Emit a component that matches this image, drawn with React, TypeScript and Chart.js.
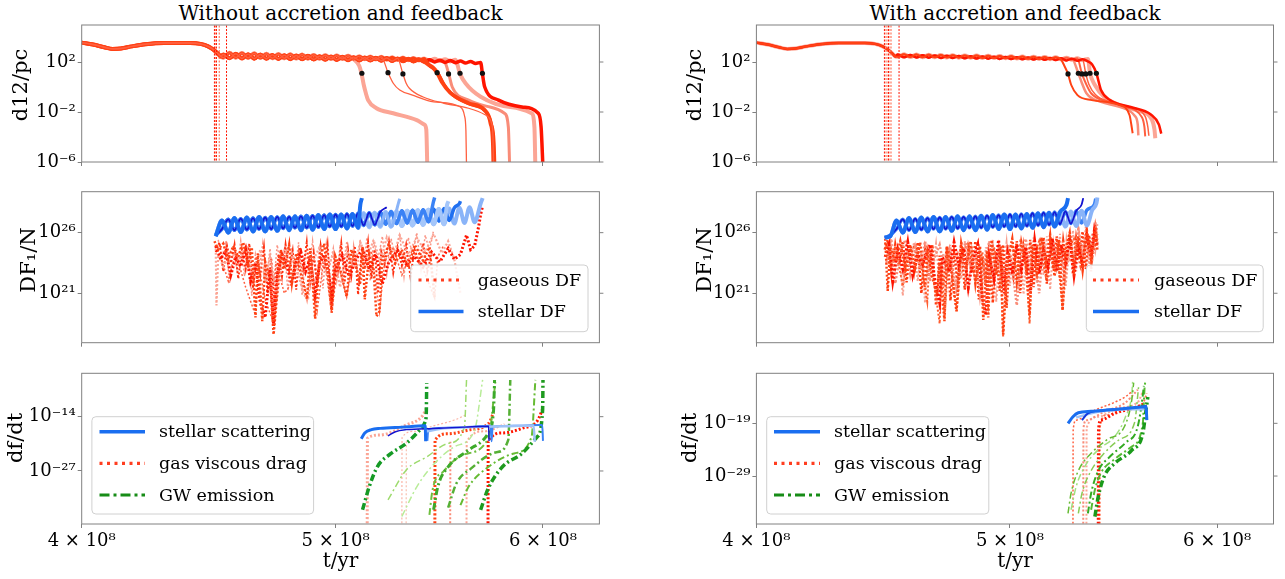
import React, { useEffect, useRef } from "react";
import { Chart, registerables } from "chart.js";

Chart.register(...registerables);
Chart.defaults.font.family = "'DejaVu Serif', 'Liberation Serif', serif";
Chart.defaults.color = "#000";

type Pair = [number, number];

// ---------------- axes ----------------
const X_MIN = 4.0; // units of 1e8 yr
const X_MAX = 6.305;
const X_TICKS = [4, 5, 6];
const Y_TOP_RANGE = [-6, 4.96];
const Y_TOP_TICKS = [2, -2, -6];
const Y_MID_RANGE = [16.92, 29.38];
const Y_MID_TICKS = [26, 21];
const Y_BL_RANGE = [-39.7, -3.61];
const Y_BL_TICKS = [-14, -27];
const Y_BR_RANGE = [-38.1, -9.51];
const Y_BR_TICKS = [-19, -29];

// ---------------- d12 (log10 pc) ----------------
const COMMON: Pair[] = [[4.0, 3.55], [4.04, 3.4], [4.08, 3.18], [4.11, 3.05], [4.14, 3.08], [4.18, 3.25], [4.23, 3.42], [4.3, 3.52], [4.4, 3.52], [4.44, 3.45], [4.47, 3.25], [4.49, 3.0], [4.51, 2.65], [4.52, 2.45]];
const PLATEAU_T = [4.53, 4.555, 4.58, 4.605, 4.63, 4.655, 4.68, 4.705, 4.73, 4.755, 4.78, 4.805, 4.83, 4.855, 4.88, 4.905, 4.93, 4.955, 4.98, 5.005, 5.03, 5.055, 5.08, 5.105, 5.13, 5.155, 5.18, 5.205, 5.23, 5.255, 5.28, 5.305, 5.33, 5.355, 5.38, 5.405, 5.43, 5.455, 5.48, 5.505, 5.53, 5.555, 5.58, 5.605, 5.63, 5.655, 5.68, 5.705];
const PLATEAU_A = [2.35, 2.75, 2.35, 2.72, 2.33, 2.7, 2.32, 2.66, 2.3, 2.64, 2.3, 2.62, 2.28, 2.6, 2.27, 2.57, 2.26, 2.54, 2.25, 2.52, 2.24, 2.5, 2.23, 2.47, 2.22, 2.44, 2.2, 2.42, 2.18, 2.39, 2.16, 2.36, 2.14, 2.32, 2.12, 2.29, 2.1, 2.26, 2.08, 2.22, 2.05, 2.19, 2.03, 2.15, 2.0, 2.12, 1.98, 2.07];
const PLATEAU_B = [2.6, 2.3, 2.66, 2.28, 2.63, 2.27, 2.6, 2.26, 2.57, 2.25, 2.54, 2.23, 2.52, 2.22, 2.5, 2.2, 2.47, 2.18, 2.45, 2.17, 2.42, 2.15, 2.39, 2.13, 2.37, 2.12, 2.34, 2.1, 2.32, 2.08, 2.29, 2.06, 2.26, 2.04, 2.22, 2.02, 2.19, 2.0, 2.15, 1.97, 2.12, 1.95, 2.08, 1.92, 2.04, 1.88, 1.97, 1.8];
const PLATEAU_RA = [2.42, 2.62, 2.4, 2.6, 2.38, 2.58, 2.38, 2.56, 2.36, 2.55, 2.35, 2.53, 2.34, 2.52, 2.33, 2.5, 2.32, 2.48, 2.3, 2.46, 2.28, 2.44, 2.26, 2.42, 2.25, 2.4, 2.23, 2.38, 2.2, 2.35, 2.18, 2.3, 2.15, 2.25, 2.1];
const PLATEAU_RB = [2.6, 2.38, 2.56, 2.36, 2.55, 2.35, 2.53, 2.33, 2.5, 2.32, 2.48, 2.3, 2.47, 2.28, 2.45, 2.27, 2.43, 2.25, 2.41, 2.24, 2.39, 2.22, 2.37, 2.2, 2.35, 2.18, 2.33, 2.16, 2.3, 2.13, 2.27, 2.1, 2.22, 2.05, 2.15];

const TL_DROP_1: Pair[] = [[5.105, 1.7], [5.115, 1.1], [5.125, 0.2], [5.135, -0.5], [5.145, -1.05], [5.183, -1.7], [5.26, -2.1], [5.37, -2.65], [5.405, -3.0], [5.415, -3.4], [5.42, -6.5]];
const TL_DROP_2: Pair[] = [[5.236, 1.15], [5.26, 0.3], [5.29, -0.24], [5.35, -0.65], [5.45, -1.19], [5.58, -1.6], [5.6, -2.3], [5.607, -3.5], [5.61, -6.5]];
const TL_DROP_3: Pair[] = [[5.305, 1.05], [5.32, 0.3], [5.335, -0.1], [5.4, -0.8], [5.5, -1.3], [5.62, -1.7], [5.7, -2.2], [5.735, -2.9], [5.742, -4], [5.745, -6.5]];
const TL_DROP_4: Pair[] = [[5.425, 1.8], [5.45, 1.5], [5.467, 1.15], [5.49, 0.4], [5.53, -0.45], [5.62, -1.3], [5.7, -1.85], [5.73, -2.9], [5.742, -4.5], [5.745, -6.5]];
const TL_DROP_5: Pair[] = [[5.43, 1.7], [5.455, 1.4], [5.475, 1.0], [5.5, 0.2], [5.54, -0.6], [5.63, -1.4], [5.705, -1.95], [5.735, -3.0], [5.748, -4.5], [5.752, -6.5]];
const TL_DROP_6: Pair[] = [[5.522, 1.1], [5.54, 0.0], [5.62, -1.05], [5.727, -1.6], [5.8, -2.1], [5.82, -3.2], [5.827, -6.5]];
const TL_DROP_7: Pair[] = [[5.578, 1.05], [5.605, 0.3], [5.68, -0.78], [5.83, -1.6], [5.94, -2.1], [5.955, -3.2], [5.96, -6.5]];
const TL_DROP_8: Pair[] = [[5.689, 1.05], [5.7, 0.02], [5.77, -1.05], [5.89, -1.6], [5.975, -2.1], [5.99, -3.2], [6.0, -6.5]];
const TL_DOTS: Pair[] = [[5.117, 1.1], [5.236, 1.15], [5.305, 1.05], [5.467, 1.15], [5.522, 1.05], [5.578, 1.1], [5.689, 1.1]];
const TL_VLINES = [4.495, 4.498, 4.503, 4.514, 4.543];

const TR_DROP_1: Pair[] = [[5.245, 1.7], [5.262, 1.05], [5.277, 0.16], [5.306, -0.65], [5.373, -1.05], [5.506, -1.45], [5.555, -2.26], [5.564, -3.06], [5.57, -3.7]];
const TR_DROP_2: Pair[] = [[5.31, 1.1], [5.327, 0.3], [5.348, -0.5], [5.417, -1.19], [5.506, -1.59], [5.58, -2.3], [5.595, -3.0], [5.598, -3.87]];
const TR_DROP_3: Pair[] = [[5.327, 1.05], [5.345, 0.3], [5.37, -0.5], [5.44, -1.15], [5.53, -1.6], [5.615, -2.4], [5.628, -3.2], [5.632, -3.95]];
const TR_DROP_4: Pair[] = [[5.345, 1.05], [5.36, 0.2], [5.39, -0.6], [5.46, -1.2], [5.55, -1.6], [5.63, -2.3], [5.645, -3.2], [5.65, -3.9]];
const TR_DROP_5: Pair[] = [[5.365, 1.1], [5.388, 0.16], [5.432, -0.78], [5.506, -1.45], [5.6, -1.9], [5.665, -2.6], [5.678, -3.4], [5.682, -4.1]];
const TR_DROP_6: Pair[] = [[5.375, 1.8], [5.395, 1.1], [5.417, -0.24], [5.46, -1.05], [5.56, -1.6], [5.66, -2.2], [5.7, -3.0], [5.712, -3.73]];
const TR_DOTS: Pair[] = [[5.262, 1.05], [5.31, 1.1], [5.327, 1.05], [5.345, 1.05], [5.365, 1.1], [5.395, 1.1]];
const TR_VLINES = [4.477, 4.482, 4.487, 4.493, 4.498, 4.503, 4.535];

// ---------------- DF1/N (log10) ----------------
const DFS_T = [4.5, 4.525, 4.55, 4.575, 4.6, 4.625, 4.65, 4.675, 4.7, 4.725, 4.75, 4.775, 4.8, 4.825, 4.85, 4.875, 4.9, 4.925, 4.95, 4.975, 5.0, 5.025, 5.05, 5.075, 5.1, 5.125, 5.15, 5.175, 5.2, 5.225, 5.25, 5.275, 5.3, 5.325, 5.35, 5.375, 5.4, 5.425, 5.45, 5.475, 5.5, 5.525, 5.55, 5.575, 5.6, 5.625, 5.65, 5.675, 5.7];
const DFS_A = [25.7, 27.0, 26.0, 27.2, 26.05, 27.25, 26.1, 27.3, 26.1, 27.3, 26.15, 27.35, 26.2, 27.35, 26.2, 27.4, 26.25, 27.45, 26.3, 27.5, 26.3, 27.5, 26.35, 27.55, 26.4, 27.6, 26.45, 27.65, 26.5, 27.7, 26.5, 27.75, 26.55, 27.8, 26.6, 27.85, 26.65, 27.9, 26.7, 27.95, 26.7, 28.0, 26.75, 28.05, 26.8, 28.1, 26.85, 28.15, 26.9];
const DFS_B = [25.8, 26.3, 27.1, 26.2, 27.15, 26.25, 27.2, 26.3, 27.25, 26.3, 27.3, 26.35, 27.3, 26.4, 27.35, 26.4, 27.4, 26.45, 27.45, 26.5, 27.5, 26.5, 27.55, 26.55, 27.6, 26.6, 27.65, 26.65, 27.7, 26.7, 27.75, 26.75, 27.8, 26.8, 27.85, 26.85, 27.9, 26.9, 27.95, 26.95, 28.0, 27.0, 28.05, 27.05, 28.1, 27.1, 28.15, 27.15, 28.2];

const GL_1: Pair[] = [[4.495, 25.3], [4.51, 24.6], [4.53, 25.1], [4.55, 23.8], [4.57, 24.9], [4.59, 24.0], [4.61, 25.2], [4.63, 23.4], [4.645, 24.8], [4.66, 19.0], [4.67, 24.3], [4.688, 18.7], [4.7, 23.6], [4.72, 22.2], [4.735, 17.6], [4.75, 21.0], [4.765, 24.6], [4.78, 23.0], [4.8, 25.0], [4.812, 21.9], [4.83, 24.3], [4.85, 22.6], [4.876, 20.5], [4.89, 24.7], [4.911, 18.9], [4.93, 23.6], [4.95, 25.1], [4.965, 22.9], [4.983, 19.4], [5.0, 24.0], [5.02, 23.0], [5.049, 20.7], [5.07, 24.6], [5.09, 23.4], [5.108, 21.7], [5.12, 24.8], [5.13, 20.5], [5.15, 24.2], [5.17, 22.9], [5.183, 19.1], [5.197, 19.5], [5.21, 23.8], [5.24, 25.0], [5.27, 23.5], [5.3, 24.6], [5.33, 23.1], [5.36, 25.0], [5.4, 23.7], [5.43, 24.8], [5.455, 20.6]];
const GL_2: Pair[] = [[4.5, 24.9], [4.52, 23.8], [4.54, 24.5], [4.56, 22.5], [4.58, 24.0], [4.6, 23.2], [4.62, 24.6], [4.64, 22.0], [4.66, 23.5], [4.68, 20.2], [4.7, 19.0], [4.72, 23.0], [4.735, 18.3], [4.75, 22.5], [4.77, 24.2], [4.79, 23.3], [4.81, 21.8], [4.83, 23.6], [4.85, 24.4], [4.87, 22.8], [4.89, 23.9], [4.91, 20.8], [4.93, 23.4], [4.95, 24.2], [4.97, 22.6], [4.983, 20.5], [5.0, 23.0], [5.03, 24.1], [5.06, 22.4], [5.09, 23.8], [5.12, 24.6], [5.15, 23.0], [5.18, 24.2], [5.21, 21.8], [5.24, 23.6], [5.28, 24.5], [5.32, 23.4], [5.36, 24.0], [5.4, 23.2], [5.44, 24.4], [5.48, 23.6], [5.52, 24.7], [5.55, 23.8], [5.58, 24.2], [5.61, 25.8], [5.63, 24.6], [5.65, 24.9], [5.67, 26.5], [5.68, 27.5], [5.69, 28.2]];
const GL_3: Pair[] = [[4.5, 25.0], [4.503, 20.0], [4.51, 24.2], [4.53, 23.2], [4.56, 24.4], [4.59, 23.6], [4.62, 25.0], [4.65, 22.8], [4.68, 24.6], [4.7, 21.9], [4.72, 24.0], [4.75, 20.8], [4.77, 23.8], [4.8, 24.9], [4.83, 23.2], [4.86, 21.0], [4.88, 20.4], [4.9, 23.6], [4.93, 24.8], [4.96, 22.7], [4.99, 24.3], [5.02, 21.5], [5.05, 24.6], [5.08, 23.0], [5.11, 25.2], [5.14, 23.9], [5.17, 25.4], [5.2, 23.6], [5.23, 25.6], [5.26, 24.0], [5.29, 25.8], [5.33, 24.2], [5.37, 25.6], [5.41, 24.4], [5.45, 25.9], [5.49, 24.3], [5.52, 25.3], [5.55, 23.8], [5.58, 21.0]];
const GL_4: Pair[] = [[4.52, 24.0], [4.55, 22.0], [4.58, 24.3], [4.62, 21.5], [4.66, 19.2], [4.675, 23.0], [4.7, 20.5], [4.73, 18.8], [4.745, 23.5], [4.78, 21.0], [4.812, 21.85], [4.84, 24.5], [4.876, 20.5], [4.895, 23.8], [4.92, 19.6], [4.95, 24.0], [4.983, 19.35], [5.01, 23.5], [5.049, 20.7], [5.08, 24.2], [5.108, 21.7], [5.13, 23.0], [5.16, 24.5], [5.197, 19.5], [5.22, 23.6], [5.26, 24.8], [5.3, 22.5], [5.35, 24.6], [5.4, 23.0], [5.455, 20.6], [5.47, 24.0], [5.5, 25.0]];
const GL_5: Pair[] = [[4.5, 24.4], [4.515, 25.2], [4.53, 22.8], [4.545, 24.9], [4.56, 23.5], [4.575, 25.0], [4.59, 22.2], [4.605, 24.6], [4.62, 23.0], [4.635, 25.1], [4.65, 21.4], [4.665, 24.0], [4.68, 22.5], [4.695, 24.8], [4.71, 21.0], [4.725, 23.9], [4.74, 19.8], [4.755, 24.2], [4.77, 22.4], [4.785, 25.0], [4.8, 22.9], [4.815, 24.5], [4.83, 21.3], [4.845, 24.8], [4.86, 23.1], [4.875, 25.2], [4.89, 22.0], [4.905, 24.3], [4.92, 21.5], [4.935, 24.9], [4.95, 23.0], [4.965, 25.0], [4.98, 20.6], [4.995, 24.1], [5.01, 22.8], [5.025, 25.1], [5.04, 21.9], [5.055, 24.6], [5.07, 22.5], [5.085, 24.9], [5.1, 20.9], [5.115, 24.2], [5.13, 23.0], [5.145, 25.2], [5.16, 22.2], [5.175, 24.6], [5.19, 21.0], [5.205, 24.4], [5.22, 23.4], [5.24, 25.3], [5.26, 22.7], [5.28, 24.8], [5.3, 23.3], [5.32, 25.0], [5.34, 22.4], [5.36, 24.6], [5.38, 23.6], [5.4, 25.1], [5.42, 22.8], [5.44, 24.2]];
const GL_6: Pair[] = [[4.51, 25.4], [4.525, 23.9], [4.54, 25.3], [4.555, 21.8], [4.57, 24.6], [4.585, 23.0], [4.6, 25.3], [4.615, 22.4], [4.63, 24.9], [4.645, 20.8], [4.66, 24.2], [4.675, 22.9], [4.69, 25.1], [4.705, 22.0], [4.72, 24.7], [4.735, 21.6], [4.75, 25.0], [4.765, 23.2], [4.78, 24.6], [4.795, 21.2], [4.81, 24.8], [4.825, 22.6], [4.84, 25.2], [4.855, 20.8], [4.87, 24.4], [4.885, 23.0], [4.9, 25.3], [4.915, 22.3], [4.93, 24.8], [4.945, 21.4], [4.96, 25.1], [4.975, 23.3], [4.99, 24.7], [5.005, 22.1], [5.02, 25.0], [5.035, 23.4], [5.05, 25.3], [5.065, 21.9], [5.08, 24.9], [5.095, 22.8], [5.11, 25.4], [5.125, 23.5], [5.14, 25.6], [5.155, 22.0], [5.17, 25.2], [5.19, 23.8], [5.21, 25.7], [5.23, 22.6], [5.25, 25.5], [5.27, 24.0], [5.29, 25.9], [5.31, 22.4], [5.33, 25.6], [5.35, 24.2], [5.37, 26.0], [5.39, 23.0], [5.41, 25.8], [5.43, 24.5], [5.45, 26.2]];

const GR_1: Pair[] = [[4.48, 25.5], [4.49, 21.2], [4.5, 24.8], [4.52, 23.6], [4.54, 25.3], [4.56, 22.8], [4.58, 25.0], [4.6, 23.1], [4.62, 25.2], [4.64, 21.5], [4.65, 24.4], [4.67, 22.3], [4.69, 20.9], [4.7, 23.5], [4.72, 18.7], [4.73, 24.8], [4.75, 22.6], [4.77, 19.5], [4.79, 25.1], [4.81, 23.0], [4.83, 25.3], [4.85, 21.8], [4.87, 24.9], [4.884, 18.8], [4.9, 24.5], [4.905, 19.0], [4.92, 25.4], [4.94, 22.5], [4.96, 24.9], [4.97, 17.6], [4.99, 23.8], [5.01, 25.5], [5.03, 21.9], [5.05, 25.2], [5.07, 23.3], [5.087, 19.2], [5.1, 25.0], [5.12, 22.7], [5.14, 25.6], [5.16, 23.5], [5.18, 25.8], [5.2, 22.4], [5.22, 25.4], [5.237, 19.6], [5.25, 24.6], [5.27, 26.0], [5.29, 23.0], [5.31, 25.7], [5.33, 22.9], [5.35, 26.2], [5.37, 23.8], [5.39, 26.5], [5.4, 24.5]];
const GR_2: Pair[] = [[4.48, 24.0], [4.495, 25.0], [4.51, 22.0], [4.53, 24.6], [4.55, 23.0], [4.57, 25.2], [4.59, 22.5], [4.61, 24.2], [4.63, 23.4], [4.66, 25.0], [4.68, 22.0], [4.7, 20.2], [4.71, 24.0], [4.74, 22.8], [4.76, 25.2], [4.78, 23.3], [4.8, 24.7], [4.82, 21.5], [4.84, 23.8], [4.86, 25.0], [4.88, 20.6], [4.895, 19.2], [4.91, 24.0], [4.93, 22.2], [4.95, 25.4], [4.975, 21.0], [4.99, 24.3], [5.01, 22.6], [5.03, 25.0], [5.05, 23.0], [5.07, 24.8], [5.09, 21.0], [5.11, 25.3], [5.13, 22.6], [5.15, 24.5], [5.17, 23.2], [5.19, 25.5], [5.21, 22.8], [5.23, 25.0], [5.25, 23.5], [5.27, 25.6], [5.29, 22.5], [5.31, 24.9], [5.33, 23.3], [5.35, 25.8], [5.37, 24.0], [5.385, 26.1], [5.4, 24.8]];
const GR_3: Pair[] = [[4.485, 23.5], [4.5, 25.2], [4.52, 21.8], [4.54, 24.4], [4.56, 25.4], [4.58, 22.6], [4.6, 24.8], [4.62, 23.0], [4.64, 25.3], [4.66, 22.0], [4.68, 24.0], [4.7, 25.0], [4.72, 22.9], [4.74, 24.6], [4.77, 21.4], [4.79, 24.0], [4.81, 25.2], [4.83, 23.0], [4.85, 24.6], [4.87, 20.8], [4.89, 23.6], [4.91, 25.3], [4.93, 22.2], [4.95, 24.7], [4.97, 21.5], [4.99, 25.0], [5.01, 23.1], [5.03, 20.0], [5.05, 24.0], [5.07, 25.5], [5.09, 23.0], [5.11, 24.6], [5.13, 21.0], [5.15, 25.1], [5.17, 22.9], [5.19, 25.6], [5.21, 23.2], [5.23, 25.0], [5.25, 21.6], [5.27, 25.5], [5.29, 23.7], [5.31, 26.3], [5.33, 24.0], [5.35, 26.0], [5.37, 22.8], [5.39, 26.9], [5.4, 25.0]];
const GR_4: Pair[] = [[4.48, 25.2], [4.5, 23.0], [4.52, 24.9], [4.55, 21.6], [4.57, 24.2], [4.6, 25.0], [4.63, 22.6], [4.649, 20.3], [4.66, 24.5], [4.7, 18.5], [4.71, 23.9], [4.72, 19.0], [4.74, 24.7], [4.771, 19.5], [4.79, 23.8], [4.82, 25.2], [4.85, 22.0], [4.88, 24.4], [4.905, 20.0], [4.93, 24.8], [4.96, 22.3], [4.97, 17.4], [4.985, 23.5], [5.01, 25.0], [5.04, 22.7], [5.07, 24.6], [5.087, 18.5], [5.1, 23.7], [5.13, 25.3], [5.16, 22.4], [5.19, 24.8], [5.22, 23.0], [5.237, 19.6], [5.26, 24.5], [5.29, 25.5], [5.32, 23.2], [5.35, 25.7], [5.38, 24.2], [5.4, 25.9]];
const GR_5: Pair[] = [[4.478, 24.6], [4.49, 25.4], [4.505, 22.6], [4.52, 25.0], [4.535, 23.3], [4.55, 25.3], [4.565, 21.9], [4.58, 24.7], [4.595, 22.8], [4.61, 25.2], [4.625, 21.0], [4.64, 24.5], [4.655, 22.4], [4.67, 25.0], [4.685, 20.0], [4.7, 24.1], [4.715, 21.6], [4.73, 24.9], [4.745, 20.4], [4.76, 24.3], [4.775, 22.0], [4.79, 25.2], [4.805, 21.3], [4.82, 24.6], [4.835, 22.7], [4.85, 25.3], [4.865, 20.5], [4.88, 24.0], [4.895, 21.8], [4.91, 25.1], [4.925, 20.2], [4.94, 24.4], [4.955, 21.2], [4.97, 25.0], [4.985, 19.8], [5.0, 24.2], [5.015, 22.4], [5.03, 25.3], [5.045, 21.0], [5.06, 24.7], [5.075, 22.6], [5.09, 25.4], [5.105, 21.5], [5.12, 24.9], [5.135, 22.9], [5.15, 25.6], [5.165, 21.8], [5.18, 25.1], [5.195, 23.0], [5.21, 25.7], [5.225, 22.2], [5.24, 25.3], [5.255, 23.4], [5.27, 25.9], [5.285, 22.6], [5.3, 25.5], [5.315, 23.8], [5.33, 26.1], [5.345, 23.0], [5.36, 25.8], [5.375, 24.0], [5.39, 26.4], [5.4, 25.2]];
const GR_6: Pair[] = [[4.49, 24.0], [4.505, 25.5], [4.52, 23.0], [4.535, 24.8], [4.55, 20.8], [4.565, 24.6], [4.58, 23.4], [4.595, 25.2], [4.61, 22.0], [4.625, 24.4], [4.64, 20.2], [4.655, 24.9], [4.67, 23.0], [4.685, 25.1], [4.7, 21.8], [4.715, 24.3], [4.73, 22.6], [4.745, 25.0], [4.76, 20.6], [4.775, 24.5], [4.79, 22.2], [4.805, 25.3], [4.82, 21.0], [4.835, 24.6], [4.85, 22.8], [4.865, 25.1], [4.88, 21.4], [4.895, 24.8], [4.91, 22.0], [4.925, 25.4], [4.94, 20.3], [4.955, 24.2], [4.97, 22.9], [4.985, 25.2], [5.0, 21.6], [5.015, 24.7], [5.03, 22.3], [5.045, 25.5], [5.06, 20.9], [5.075, 24.5], [5.09, 23.0], [5.105, 25.6], [5.12, 21.8], [5.135, 24.9], [5.15, 22.5], [5.165, 25.7], [5.18, 21.3], [5.195, 25.1], [5.21, 23.2], [5.225, 25.9], [5.24, 22.0], [5.255, 25.4], [5.27, 23.6], [5.285, 26.2], [5.3, 22.8], [5.315, 25.8], [5.33, 24.0], [5.345, 26.5], [5.36, 23.4], [5.375, 26.0], [5.39, 24.6], [5.4, 26.8]];

// ---------------- df/dt (log10) ----------------
const BL_B1: Pair[] = [[5.114, -19.3], [5.13, -17.9], [5.16, -17.1], [5.2, -16.8], [5.3, -16.5], [5.41, -16.2], [5.412, -19.9]];
const BL_B2: Pair[] = [[5.235, -18.6], [5.27, -17.6], [5.32, -17.1], [5.45, -16.8], [5.6, -16.5], [5.72, -16.3], [5.722, -19.8]];
const BL_B3: Pair[] = [[5.418, -17.5], [5.5, -16.8], [5.65, -16.5], [5.8, -16.3], [5.95, -16.1], [5.957, -20.0]];
const BL_B4: Pair[] = [[5.42, -19.8], [5.425, -17.0], [5.55, -16.6], [5.73, -16.2], [5.735, -19.9], [5.74, -16.4], [5.85, -16.2], [5.98, -16.0], [5.996, -16.0], [6.0, -19.8]];
const BL_R1: Pair[] = [[5.141, -39.5], [5.1415, -30], [5.142, -19.2], [5.196, -18.4], [5.32, -16.0], [5.4, -13.6], [5.415, -12.0]];
const BL_R2: Pair[] = [[5.3, -39.5], [5.301, -19.0], [5.36, -17.5], [5.45, -16.2], [5.55, -14.8], [5.61, -13.5]];
const BL_R3: Pair[] = [[5.456, -39.5], [5.457, -19.6], [5.52, -18.1], [5.62, -17.2], [5.72, -15.6], [5.745, -13.0]];
const BL_R4: Pair[] = [[5.717, -39.5], [5.718, -20.0], [5.79, -17.9], [5.89, -16.8], [5.97, -15.0], [6.0, -12.0]];
const BL_R5: Pair[] = [[5.53, -39.5], [5.531, -20.0]];
const BL_R6: Pair[] = [[5.61, -39.5], [5.611, -20.0], [5.7, -17.5], [5.8, -15.8]];
const BL_R7: Pair[] = [[5.32, -39.5], [5.321, -19.5]];
const BL_G1: Pair[] = [[5.12, -36.3], [5.15, -30.8], [5.187, -26.0], [5.25, -22.8], [5.32, -20.4], [5.377, -17.6], [5.41, -15.2], [5.415, -13.2], [5.417, -6.0]];
const BL_G2: Pair[] = [[5.236, -33.9], [5.32, -26.8], [5.418, -23.6], [5.52, -20.4], [5.6, -16.4], [5.61, -5.2]];
const BL_G3: Pair[] = [[5.3, -37.9], [5.37, -30.8], [5.44, -26.0], [5.55, -21.2], [5.65, -17.2], [5.69, -5.2]];
const BL_G4: Pair[] = [[5.45, -36.3], [5.47, -30.8], [5.52, -26.0], [5.62, -22.0], [5.717, -18.0], [5.745, -12.4], [5.75, -5.2]];
const BL_G5: Pair[] = [[5.43, -37.5], [5.445, -31.5], [5.5, -27.0], [5.6, -23.0], [5.72, -19.0], [5.755, -5.2]];
const BL_G6: Pair[] = [[5.52, -35.8], [5.56, -30.0], [5.63, -26.5], [5.76, -22.5], [5.82, -19.5], [5.83, -5.2]];
const BL_G7: Pair[] = [[5.68, -36.3], [5.717, -31.3], [5.79, -26.0], [5.89, -22.8], [5.97, -18.8], [5.998, -12.4], [6.0, -5.2]];
const BL_G8: Pair[] = [[5.58, -35.2], [5.62, -30.8], [5.72, -26.0], [5.85, -22.8], [5.94, -18.8], [5.96, -5.2]];

const BR_B1: Pair[] = [[5.262, -19.0], [5.285, -17.75], [5.31, -17.0], [5.37, -16.7], [5.483, -16.4], [5.636, -15.85], [5.64, -18.4]];
const BR_B2: Pair[] = [[5.327, -18.4], [5.355, -17.1], [5.432, -16.5], [5.566, -16.1], [5.64, -15.7]];
const BR_B3: Pair[] = [[5.3, -17.9], [5.404, -16.8], [5.62, -16.3], [5.625, -16.5]];
const BR_R1: Pair[] = [[5.285, -38.0], [5.286, -20.3], [5.3, -18.4], [5.37, -16.8], [5.483, -15.0], [5.535, -13.95], [5.566, -13.0]];
const BR_R2: Pair[] = [[5.333, -38.0], [5.334, -20.0], [5.348, -18.4], [5.432, -16.8], [5.53, -15.2], [5.58, -13.3], [5.595, -12.6]];
const BR_R3: Pair[] = [[5.348, -38.0], [5.349, -19.8], [5.404, -17.75], [5.49, -16.2], [5.595, -15.0], [5.62, -13.0]];
const BR_R4: Pair[] = [[5.404, -38.0], [5.405, -20.3], [5.417, -18.4], [5.483, -17.1], [5.566, -16.2], [5.636, -15.2]];
const BR_R5: Pair[] = [[5.411, -38.0], [5.412, -19.6], [5.446, -17.4], [5.53, -16.2], [5.62, -15.2], [5.64, -13.3]];
const BR_G1: Pair[] = [[5.262, -36.1], [5.276, -32.3], [5.31, -28.0], [5.37, -24.7], [5.446, -22.1], [5.53, -19.6], [5.566, -14.5], [5.575, -11.3]];
const BR_G2: Pair[] = [[5.31, -36.1], [5.327, -32.3], [5.37, -28.0], [5.432, -24.7], [5.505, -22.1], [5.58, -18.8], [5.595, -13.7], [5.6, -11.7]];
const BR_G3: Pair[] = [[5.355, -36.1], [5.37, -32.3], [5.404, -28.0], [5.46, -25.3], [5.535, -22.7], [5.595, -19.6], [5.62, -13.7], [5.625, -11.9]];
const BR_G4: Pair[] = [[5.388, -36.7], [5.404, -32.9], [5.432, -29.1], [5.483, -26.6], [5.566, -24.1], [5.62, -20.9], [5.636, -16.5], [5.645, -14.0]];
const BR_G5: Pair[] = [[5.37, -35.4], [5.388, -31.6], [5.417, -28.4], [5.483, -25.8], [5.566, -23.4], [5.62, -19.0], [5.628, -12.7], [5.632, -11.1]];
const BR_G6: Pair[] = [[5.276, -35.4], [5.3, -31.0], [5.34, -27.2], [5.404, -24.0], [5.483, -21.5], [5.535, -17.75], [5.566, -13.3], [5.57, -11.1]];

// ---------------- helpers ----------------
const toPt = ([t, e]: Pair) => ({ x: t * 1e8, y: Math.pow(10, e) });
const pts = (a: Pair[]) => a.map(toPt);
const upTo = (tArr: number[], vals: number[], tEnd: number): Pair[] => {
  const out: Pair[] = [];
  for (let i = 0; i < vals.length && i < tArr.length; i++) if (tArr[i] <= tEnd) out.push([tArr[i], vals[i]]);
  return out;
};
const d12 = (vals: number[], tEnd: number, drop: Pair[]) => pts([...COMMON, ...upTo(PLATEAU_T, vals, tEnd), ...drop]);
const dfs = (vals: number[], tEnd: number, tail: Pair[], head: Pair[] = []) => pts([...head, ...upTo(DFS_T, vals, tEnd), ...tail]);

const DOTTED = [2, 2];
const DASHDOT = [7, 3, 2, 3];
const line = (data: any[], color: string, width: number, extra: any = {}) => ({
  data, borderColor: color, backgroundColor: color, borderWidth: width, showLine: true,
  pointRadius: 0, tension: 0, fill: false, ...extra,
});
const smooth = { cubicInterpolationMode: "monotone" };
const dots = (a: Pair[]) => ({ data: pts(a), showLine: false, pointRadius: 2.6, pointBackgroundColor: "#111", pointBorderColor: "#111", pointBorderWidth: 0 });
const vline = (t: number, color: string) => line(pts([[t, -7], [t, 6]]), color, 1, { borderDash: [2, 1.5] });

const SUP: Record<string, string> = { "0": "⁰", "1": "¹", "2": "²", "3": "³", "4": "⁴", "5": "⁵", "6": "⁶", "7": "⁷", "8": "⁸", "9": "⁹", "-": "⁻" };
const sup = (n: number) => String(n).split("").map((c) => SUP[c] || c).join("");

// ---------------- plugins ----------------
const framePlugin = {
  id: "frame",
  afterDraw(chart: any, _args: any, o: any) {
    const { ctx, chartArea: a } = chart;
    ctx.save();
    ctx.strokeStyle = "#808080";
    ctx.lineWidth = 1;
    ctx.strokeRect(a.left, a.top, a.right - a.left, a.bottom - a.top);
    const ys = chart.scales.y;
    ys.ticks.forEach((tk: any) => {
      const y = ys.getPixelForValue(tk.value);
      ctx.beginPath();
      ctx.moveTo(a.right, y);
      ctx.lineTo(a.right + 4, y);
      ctx.stroke();
    });
    if (o && o.ylabel) {
      ctx.translate(o.ylabel.cx - o.ox, o.ylabel.cy - o.oy);
      ctx.rotate(-Math.PI / 2);
      ctx.fillStyle = "#000";
      ctx.font = "21px 'DejaVu Serif', serif";
      ctx.textAlign = "center";
      ctx.textBaseline = "middle";
      ctx.fillText(o.ylabel.text, 0, 0);
    }
    ctx.restore();
  },
};

const legendPlugin = {
  id: "boxLegend",
  afterDraw(chart: any, _args: any, o: any) {
    if (!o || !o.items) return;
    const ctx = chart.ctx;
    const ox = o.ox, oy = o.oy;
    const [x0, y0, x1, y1] = [o.box[0] - ox, o.box[1] - oy, o.box[2] - ox, o.box[3] - oy];
    const r = 4;
    ctx.save();
    ctx.beginPath();
    ctx.moveTo(x0 + r, y0);
    ctx.lineTo(x1 - r, y0);
    ctx.quadraticCurveTo(x1, y0, x1, y0 + r);
    ctx.lineTo(x1, y1 - r);
    ctx.quadraticCurveTo(x1, y1, x1 - r, y1);
    ctx.lineTo(x0 + r, y1);
    ctx.quadraticCurveTo(x0, y1, x0, y1 - r);
    ctx.lineTo(x0, y0 + r);
    ctx.quadraticCurveTo(x0, y0, x0 + r, y0);
    ctx.closePath();
    ctx.fillStyle = "rgba(255,255,255,0.85)";
    ctx.fill();
    ctx.strokeStyle = "#d0d0d0";
    ctx.lineWidth = 1;
    ctx.stroke();
    o.items.forEach((it: any) => {
      const y = it.y - oy;
      ctx.beginPath();
      ctx.setLineDash(it.dash || []);
      ctx.strokeStyle = it.color;
      ctx.lineWidth = it.width;
      ctx.moveTo(o.sx0 - ox, y);
      ctx.lineTo(o.sx1 - ox, y);
      ctx.stroke();
      ctx.setLineDash([]);
      ctx.fillStyle = "#000";
      ctx.font = "17.5px 'DejaVu Serif', serif";
      ctx.textBaseline = "middle";
      ctx.textAlign = "left";
      ctx.fillText(it.label, o.tx - ox, y + 1);
    });
    ctx.restore();
  },
};

// ---------------- panel spec ----------------
interface Spec {
  left: number; top: number; w: number; h: number;
  yW: number; padTop: number; padRight: number; xH: number;
  yRange: number[]; yTicks: number[]; ylabel: { text: string; cx: number; cy: number };
  showX: boolean; datasets: any[]; legend?: any;
}

function buildConfig(s: Spec): any {
  return {
    type: "scatter",
    data: { datasets: s.datasets },
    options: {
      animation: false,
      responsive: false,
      maintainAspectRatio: false,
      devicePixelRatio: 1,
      events: [],
      layout: { padding: { left: 0, top: s.padTop, right: s.padRight, bottom: 0 } },
      elements: { point: { radius: 0, hoverRadius: 0 }, line: { borderCapStyle: "butt" } },
      plugins: {
        legend: { display: false },
        tooltip: { enabled: false },
        frame: { ylabel: s.ylabel, ox: s.left, oy: s.top },
        boxLegend: s.legend ? { ...s.legend, ox: s.left, oy: s.top } : {},
      },
      scales: {
        x: {
          type: "logarithmic",
          min: X_MIN * 1e8,
          max: X_MAX * 1e8,
          afterBuildTicks: (sc: any) => { sc.ticks = X_TICKS.map((v) => ({ value: v * 1e8 })); },
          afterFit: (sc: any) => { sc.height = s.xH; sc.paddingLeft = 0; sc.paddingRight = 0; },
          ticks: {
            display: s.showX, autoSkip: false, maxRotation: 0, minRotation: 0, padding: 3,
            font: { size: 18 }, color: "#000",
            callback: (v: number) => `${Math.round(v / 1e8)} × 10⁸`,
          },
          grid: { display: true, drawOnChartArea: false, drawTicks: true, tickLength: 4, color: "#808080" },
          border: { display: false },
          title: { display: s.showX, text: "t/yr", font: { size: 20 }, color: "#000", padding: { top: 0, bottom: 5.3 } },
        },
        y: {
          type: "logarithmic",
          min: Math.pow(10, s.yRange[0]),
          max: Math.pow(10, s.yRange[1]),
          afterBuildTicks: (sc: any) => { sc.ticks = s.yTicks.map((e) => ({ value: Math.pow(10, e) })); },
          afterFit: (sc: any) => { sc.width = s.yW; sc.paddingTop = 0; sc.paddingBottom = 0; },
          ticks: {
            autoSkip: false, padding: 2, font: { size: 18 }, color: "#000",
            callback: (v: number) => "10" + sup(Math.round(Math.log10(v))),
          },
          grid: { display: true, drawOnChartArea: false, drawTicks: true, tickLength: 4, color: "#808080" },
          border: { display: false },
          title: { display: false },
        },
      },
    },
    plugins: [framePlugin, legendPlugin],
  };
}

function Panel({ spec }: { spec: Spec }) {
  const ref = useRef<HTMLCanvasElement>(null);
  useEffect(() => {
    const chart = new Chart(ref.current as HTMLCanvasElement, buildConfig(spec));
    return () => chart.destroy();
  }, []);
  return (
    <canvas
      ref={ref}
      width={spec.w}
      height={spec.h}
      style={{ position: "absolute", left: spec.left, top: spec.top, width: spec.w, height: spec.h }}
    />
  );
}

// ---------------- colours ----------------
const C_LSALMON = "#fba595";
const C_SALMON = "#f98c78";
const C_ORED = "#ff4214";
const C_RED = "#ff1400";
const C_ORANGE = "#ff6040";
const C_BLUE = "#1a6ef0";
const C_DBLUE = "#1414d0";
const C_LBLUE = "#8ab4f8";
const C_MBLUE = "#3a82f5";

// ---------------- datasets ----------------
const topLeftSets = [
  dots(TL_DOTS),
  ...TL_VLINES.map((t, i) => vline(t, i % 2 ? C_ORANGE : C_RED)),
  line(d12(PLATEAU_A, 5.22, TL_DROP_2), C_ORANGE, 1.3, smooth),
  line(d12(PLATEAU_B, 5.29, TL_DROP_3), C_ORANGE, 1.3, smooth),
  line(d12(PLATEAU_B, 5.41, TL_DROP_4), C_ORED, 4, smooth),
  line(d12(PLATEAU_A, 5.42, TL_DROP_5), C_ORED, 3, smooth),
  line(d12(PLATEAU_B, 5.68, TL_DROP_8), C_RED, 3.5, smooth),
  line(d12(PLATEAU_B, 5.505, TL_DROP_6), C_SALMON, 3, smooth),
  line(d12(PLATEAU_A, 5.56, TL_DROP_7), C_LSALMON, 4, smooth),
  line(d12(PLATEAU_A, 5.09, TL_DROP_1), C_LSALMON, 4, smooth),
];

const topRightSets = [
  dots(TR_DOTS),
  ...TR_VLINES.map((t, i) => vline(t, i % 3 === 0 ? C_RED : i % 3 === 1 ? C_LSALMON : C_ORANGE)),
  line(d12(PLATEAU_RA, 5.23, TR_DROP_1), C_ORED, 2, smooth),
  line(d12(PLATEAU_RB, 5.355, TR_DROP_6), C_RED, 2.5, smooth),
  line(d12(PLATEAU_RB, 5.28, TR_DROP_2), C_SALMON, 2.5, smooth),
  line(d12(PLATEAU_RA, 5.305, TR_DROP_3), C_ORANGE, 2, smooth),
  line(d12(PLATEAU_RB, 5.33, TR_DROP_4), C_ORANGE, 1.5, smooth),
  line(d12(PLATEAU_RA, 5.355, TR_DROP_5), C_LSALMON, 4, smooth),
];

const midLeftSets = [
  line(dfs(DFS_A, 5.1, [[5.11, 28.3], [5.117, 28.85]]), C_BLUE, 4, smooth),
  line(dfs(DFS_B, 5.21, [[5.23, 28.1]]), C_DBLUE, 1.8, smooth),
  line(dfs(DFS_A, 5.27, [[5.285, 28.5], [5.29, 28.8]]), C_LBLUE, 3, smooth),
  line(dfs(DFS_B, 5.43, [[5.45, 28.6], [5.455, 28.9]]), C_MBLUE, 3.5, smooth),
  line(dfs(DFS_A, 5.5, [[5.515, 28.3], [5.522, 28.6]]), "#a4c6fa", 4, smooth),
  line(dfs(DFS_B, 5.565, [[5.575, 28.4], [5.58, 28.6]]), "#2070f0", 3.5, smooth),
  line(dfs(DFS_A, 5.67, [[5.68, 28.4], [5.69, 28.85]]), C_LBLUE, 4, smooth),
  line(pts(GL_1), C_ORED, 2.5, { borderDash: DOTTED }),
  line(pts(GL_2), C_RED, 3, { borderDash: DOTTED }),
  line(pts(GL_3), C_LSALMON, 2.2, { borderDash: DOTTED }),
  line(pts(GL_4), C_ORANGE, 1.5, { borderDash: DOTTED }),
  line(pts(GL_5), "#ff3010", 2, { borderDash: DOTTED }),
  line(pts(GL_6), "#fa9585", 1.5, { borderDash: DOTTED }),
];

const RHEAD: Pair[] = [[4.478, 25.6]];
const midRightSets = [
  line(dfs(DFS_A, 5.24, [[5.255, 28.3], [5.262, 28.85]], RHEAD), C_BLUE, 4, smooth),
  line(dfs(DFS_B, 5.31, [[5.325, 28.3], [5.333, 28.85]], RHEAD), C_DBLUE, 1.8, smooth),
  line(dfs(DFS_A, 5.38, [[5.395, 28.4], [5.4, 28.9]], RHEAD), C_LBLUE, 4, smooth),
  line(dfs(DFS_B, 5.37, [[5.385, 28.3], [5.392, 28.8]], RHEAD), C_MBLUE, 3.5, smooth),
  line(pts(GR_1), C_ORED, 2.5, { borderDash: DOTTED }),
  line(pts(GR_2), C_RED, 3, { borderDash: DOTTED }),
  line(pts(GR_3), C_SALMON, 2.5, { borderDash: DOTTED }),
  line(pts(GR_4), "#ff5c2e", 2, { borderDash: DOTTED }),
  line(pts(GR_5), "#ff3a10", 2.5, { borderDash: DOTTED }),
  line(pts(GR_6), "#f9a090", 2, { borderDash: DOTTED }),
];

const botLeftSets = [
  line(pts(BL_B1), C_BLUE, 3, smooth),
  line(pts(BL_B2), C_DBLUE, 1.5, smooth),
  line(pts(BL_B3), "#9ec2f8", 2.5, smooth),
  line(pts(BL_B4), C_MBLUE, 2, smooth),
  line(pts(BL_G1), "#159a25", 3.5, { ...smooth, borderDash: DASHDOT }),
  line(pts(BL_G2), "#9edb6e", 1.5, { ...smooth, borderDash: DASHDOT }),
  line(pts(BL_G3), "#b8ec98", 1.5, { ...smooth, borderDash: DASHDOT }),
  line(pts(BL_G4), "#3daa2a", 3, { ...smooth, borderDash: DASHDOT }),
  line(pts(BL_G5), "#6fbf3f", 2, { ...smooth, borderDash: DASHDOT }),
  line(pts(BL_G6), "#55b035", 2.5, { ...smooth, borderDash: DASHDOT }),
  line(pts(BL_G7), "#1e9a1e", 3.5, { ...smooth, borderDash: DASHDOT }),
  line(pts(BL_G8), "#66bb33", 2, { ...smooth, borderDash: DASHDOT }),
  line(pts(BL_R1), C_LSALMON, 3, { ...smooth, borderDash: DOTTED }),
  line(pts(BL_R2), "#fbb4a6", 1.2, { ...smooth, borderDash: DOTTED }),
  line(pts(BL_R3), C_ORED, 3, { ...smooth, borderDash: DOTTED }),
  line(pts(BL_R4), C_RED, 3, { ...smooth, borderDash: DOTTED }),
  line(pts(BL_R5), C_SALMON, 2, { borderDash: DOTTED }),
  line(pts(BL_R6), C_LSALMON, 2, { ...smooth, borderDash: DOTTED }),
  line(pts(BL_R7), "#f7c0b0", 1.2, { borderDash: DOTTED }),
];

const botRightSets = [
  line(pts(BR_B1), C_BLUE, 3, smooth),
  line(pts(BR_B2), "#1038e0", 2, smooth),
  line(pts(BR_B3), "#9ec2f8", 2.5, smooth),
  line(pts(BR_G1), "#66bb33", 1.5, { ...smooth, borderDash: DASHDOT }),
  line(pts(BR_G2), "#88cc55", 1.5, { ...smooth, borderDash: DASHDOT }),
  line(pts(BR_G3), "#33aa22", 2, { ...smooth, borderDash: DASHDOT }),
  line(pts(BR_G4), "#1a9a1a", 3.5, { ...smooth, borderDash: DASHDOT }),
  line(pts(BR_G5), "#55bb33", 2, { ...smooth, borderDash: DASHDOT }),
  line(pts(BR_G6), "#a0e080", 1.5, { ...smooth, borderDash: DASHDOT }),
  line(pts(BR_R1), C_ORANGE, 1.5, { ...smooth, borderDash: DOTTED }),
  line(pts(BR_R2), C_SALMON, 2, { ...smooth, borderDash: DOTTED }),
  line(pts(BR_R3), C_LSALMON, 2, { ...smooth, borderDash: DOTTED }),
  line(pts(BR_R4), C_RED, 3, { ...smooth, borderDash: DOTTED }),
  line(pts(BR_R5), "#ff7a5a", 2, { ...smooth, borderDash: DOTTED }),
];

const LEG_DF = [
  { label: "gaseous DF", color: "#ff3d1f", dash: [3, 4.5], width: 3.2, y: 280 },
  { label: "stellar DF", color: C_BLUE, dash: [], width: 3.5, y: 311.5 },
];
const LEG_DFDT = [
  { label: "stellar scattering", color: C_BLUE, dash: [], width: 3.5, y: 431.7 },
  { label: "gas viscous drag", color: "#ff3d1f", dash: [3, 4.5], width: 3.2, y: 463.3 },
  { label: "GW emission", color: "#178c17", dash: [10, 4, 3, 4], width: 3.2, y: 495 },
];

const L = { left: 0, w: 610, yW: 81.7, padRight: 10.6 };
const R = { left: 665, w: 620, yW: 91.4, padRight: 11.5 };
const ROW_T = { top: 18, h: 155, padTop: 7, xH: 11 };
const ROW_M = { top: 182, h: 168, padTop: 9.7, xH: 7.3 };
const ROW_B = { top: 364, h: 215, padTop: 9.3, xH: 55 };

const SPECS: Spec[] = [
  { ...L, ...ROW_T, yRange: Y_TOP_RANGE, yTicks: Y_TOP_TICKS, ylabel: { text: "d12/pc", cx: 21.4, cy: 85 }, showX: false, datasets: topLeftSets },
  { ...R, ...ROW_T, yRange: Y_TOP_RANGE, yTicks: Y_TOP_TICKS, ylabel: { text: "d12/pc", cx: 695.6, cy: 85 }, showX: false, datasets: topRightSets },
  { ...L, ...ROW_M, yRange: Y_MID_RANGE, yTicks: Y_MID_TICKS, ylabel: { text: "DF₁/N", cx: 30, cy: 260 }, showX: false, datasets: midLeftSets,
    legend: { box: [410.7, 265, 588, 331.7], sx0: 418.5, sx1: 463.5, tx: 477.7, items: LEG_DF } },
  { ...R, ...ROW_M, yRange: Y_MID_RANGE, yTicks: Y_MID_TICKS, ylabel: { text: "DF₁/N", cx: 706, cy: 260 }, showX: false, datasets: midRightSets,
    legend: { box: [1086.3, 265, 1263.2, 331.7], sx0: 1093, sx1: 1139, tx: 1154, items: LEG_DF } },
  { ...L, ...ROW_B, yRange: Y_BL_RANGE, yTicks: Y_BL_TICKS, ylabel: { text: "df/dt", cx: 16.3, cy: 438 }, showX: true, datasets: botLeftSets,
    legend: { box: [91.9, 416.7, 313.6, 514], sx0: 99.5, sx1: 145, tx: 159, items: LEG_DFDT } },
  { ...R, ...ROW_B, yRange: Y_BR_RANGE, yTicks: Y_BR_TICKS, ylabel: { text: "df/dt", cx: 691, cy: 438 }, showX: true, datasets: botRightSets,
    legend: { box: [766.7, 416.7, 988.8, 514], sx0: 774, sx1: 820, tx: 834, items: LEG_DFDT } },
];

const TITLES = [
  { text: "Without accretion and feedback", cx: 340.5 },
  { text: "With accretion and feedback", cx: 1015 },
];

export default function App() {
  return (
    <div style={{ position: "absolute", left: 0, top: 0, width: 1285, height: 579, background: "#fff", overflow: "hidden" }}>
      {TITLES.map((t) => (
        <div
          key={t.text}
          style={{
            position: "absolute", left: t.cx - 250, top: 0, width: 500, height: 26, lineHeight: "26px",
            textAlign: "center", fontFamily: "'DejaVu Serif', serif", fontSize: 20, color: "#000", whiteSpace: "nowrap",
          }}
        >
          {t.text}
        </div>
      ))}
      {SPECS.map((s, i) => (
        <Panel key={i} spec={s} />
      ))}
    </div>
  );
}
